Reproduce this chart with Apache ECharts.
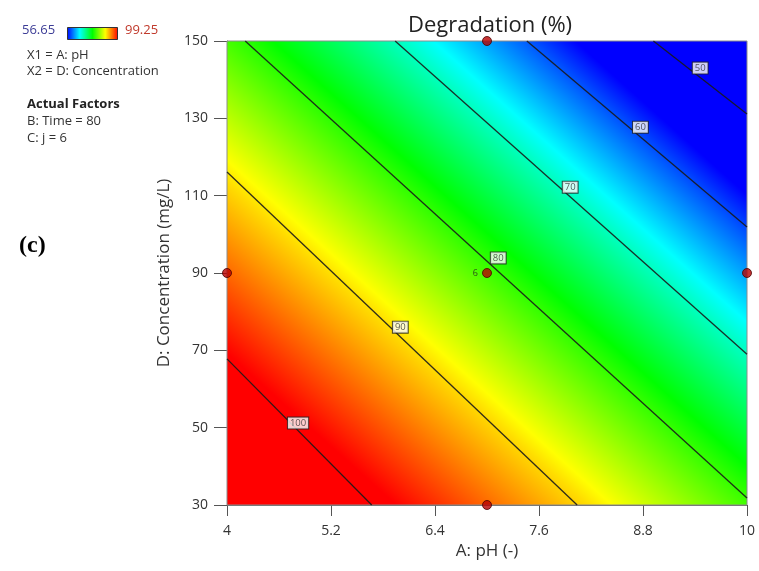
<!DOCTYPE html>
<html>
<head>
<meta charset="utf-8">
<script src="https://cdn.jsdelivr.net/npm/echarts@6/dist/echarts.min.js"></script>
<style>
  html, body { margin: 0; padding: 0; background: #fff; }
  #chart { width: 759px; height: 571px; }
</style>
</head>
<body>
<div id="chart"></div>
<script>
// ticks on both axes
const xTicks = [4, 5.2, 6.4, 7.6, 8.8, 10];
const yTicks = [30, 50, 70, 90, 110, 130, 150];
// colour scale limits (legend)
const colorRange = [56.65, 99.25];
// contour levels and their end points [pH, concentration]
const levels = [100, 90, 80, 70, 60, 50];
const contourLines = [
  [[4, 67.8], [5.67, 30]],
  [[4, 116.1], [8.04, 30]],
  [[4.21, 150], [10, 31.8]],
  [[5.94, 150], [10, 69.0]],
  [[7.46, 150], [10, 101.9]],
  [[8.92, 150], [10, 131.1]]
];
// where the level labels sit on each contour
const labelPoints = [[4.82, 51.2], [6.00, 76.0], [7.13, 93.9], [7.96, 112.2], [8.77, 127.7], [9.46, 143.0]];
// design points and how many runs each has
const designPoints = [[7, 150], [7, 90], [4, 90], [10, 90], [7, 30]];
const designRuns = [1, 6, 1, 1, 1];

// blue -> cyan -> green -> yellow -> red
const paletteColors = [[0, 0, 255], [0, 255, 255], [0, 255, 0], [255, 255, 0], [255, 0, 0]];

function colorOf(v) {
  let t = (v - colorRange[0]) / (colorRange[1] - colorRange[0]);
  t = Math.max(0, Math.min(1, t)) * (paletteColors.length - 1);
  let i = Math.min(Math.floor(t), paletteColors.length - 2);
  let f = t - i;
  let a = paletteColors[i], b = paletteColors[i + 1];
  return 'rgb(' + a.map((c, k) => Math.round(c + (b[k] - c) * f)).join(',') + ')';
}

// gradient surface under the contours, lined up with the contour lines
function renderSurface(params, api) {
  let p0 = api.coord([xTicks[0], yTicks[0]]);
  let p1 = api.coord([xTicks[xTicks.length - 1], yTicks[yTicks.length - 1]]);
  let dx = 0, dy = 0;
  contourLines.forEach(l => {
    let a = api.coord(l[0]), b = api.coord(l[1]);
    let len = Math.hypot(b[0] - a[0], b[1] - a[1]);
    dx += (b[0] - a[0]) / len;
    dy += (b[1] - a[1]) / len;
  });
  let len = Math.hypot(dx, dy);
  dx /= len; dy /= len;
  let nx = dy, ny = -dx;
  let s = contourLines.map(l => {
    let a = api.coord(l[0]), b = api.coord(l[1]);
    return (a[0] + b[0]) / 2 * nx + (a[1] + b[1]) / 2 * ny;
  });
  let sStart = s[0], sEnd = s[s.length - 1];
  function sOf(v) {
    for (let i = 0; i < levels.length - 1; i++) {
      if (v <= levels[i] && v >= levels[i + 1]) {
        return s[i] + (levels[i] - v) / (levels[i] - levels[i + 1]) * (s[i + 1] - s[i]);
      }
    }
    return v > levels[0] ? sStart : sEnd;
  }
  let vals = levels.slice();
  for (let k = 0; k < paletteColors.length; k++) {
    vals.push(colorRange[0] + (colorRange[1] - colorRange[0]) * k / (paletteColors.length - 1));
  }
  vals.sort((a, b) => b - a);
  let stops = vals.map(v => ({ offset: (sOf(v) - sStart) / (sEnd - sStart), color: colorOf(v) }));
  return {
    type: 'rect',
    shape: { x: p0[0], y: p1[1], width: p1[0] - p0[0], height: p0[1] - p1[1] },
    style: {
      fill: new echarts.graphic.LinearGradient(nx * sStart, ny * sStart, nx * sEnd, ny * sEnd, stops, true),
      stroke: '#8c8c8c',
      lineWidth: 1
    }
  };
}

const font = '"Open Sans", "Noto Sans", sans-serif';
let myChart = echarts.init(document.getElementById('chart'));

let series = [{
  type: 'custom',
  renderItem: renderSurface,
  data: [[xTicks[0], yTicks[0]]],
  silent: true,
  z: 1
}];
contourLines.forEach((l, i) => {
  series.push({
    name: 'c' + levels[i],
    type: 'line',
    data: l,
    symbol: 'none',
    silent: true,
    lineStyle: { color: '#1a1a1a', width: 1.3, opacity: 0.9 },
    z: 3
  });
});
series.push({
  type: 'scatter',
  data: labelPoints.map((p, i) => [p[0], p[1], levels[i]]),
  symbolSize: 1,
  itemStyle: { color: 'transparent' },
  silent: true,
  label: {
    show: true,
    position: 'inside',
    formatter: p => p.value[2],
    fontSize: 9.5,
    fontFamily: font,
    color: '#333',
    backgroundColor: '#fff',
    borderColor: '#222',
    borderWidth: 1,
    padding: [1, 2, 0, 2]
  },
  z: 4
});
series.push({
  type: 'scatter',
  data: designPoints.map((p, i) => ({
    value: p,
    label: {
      show: designRuns[i] > 1,
      formatter: String(designRuns[i]),
      position: 'left',
      distance: 4,
      fontSize: 9,
      color: '#222',
      fontFamily: font
    }
  })),
  symbolSize: 9,
  clip: false,
  silent: true,
  itemStyle: { color: '#b80000', borderColor: '#4a0000', borderWidth: 1 },
  z: 5
});

myChart.setOption({
  animation: false,
  title: {
    text: 'Degradation (%)',
    left: 485,
    top: 10,
    textAlign: 'center',
    textStyle: { fontFamily: font, fontSize: 22, fontWeight: 'normal', color: '#222' }
  },
  grid: { left: 227, right: 12, top: 41, bottom: 66 },
  xAxis: {
    type: 'value',
    min: xTicks[0],
    max: xTicks[xTicks.length - 1],
    name: 'A: pH (-)',
    nameLocation: 'middle',
    nameGap: 36,
    nameTextStyle: { fontFamily: font, fontSize: 17, color: '#333' },
    splitLine: { show: false },
    axisLine: { lineStyle: { color: '#666' } },
    axisTick: { show: true, customValues: xTicks, length: 11, lineStyle: { color: '#555' } },
    axisLabel: { customValues: xTicks, fontFamily: font, fontSize: 14, color: '#333', margin: 19 }
  },
  yAxis: {
    type: 'value',
    min: yTicks[0],
    max: yTicks[yTicks.length - 1],
    name: 'D: Concentration (mg/L)',
    nameLocation: 'middle',
    nameGap: 50,
    nameTextStyle: { fontFamily: font, fontSize: 17, color: '#333' },
    splitLine: { show: false },
    axisLine: { show: true, lineStyle: { color: '#666' } },
    axisTick: { show: true, customValues: yTicks, length: 13, lineStyle: { color: '#555' } },
    axisLabel: { customValues: yTicks, fontFamily: font, fontSize: 14, color: '#333', margin: 19 }
  },
  graphic: [
    { type: 'text', left: 22, top: 24, style: { text: colorRange[0].toFixed(2), fill: '#3c3c96', font: '13px ' + font } },
    {
      type: 'rect', left: 67, top: 27,
      shape: { width: 50, height: 12 },
      style: {
        fill: new echarts.graphic.LinearGradient(0, 0, 1, 0,
          paletteColors.map((c, k) => ({ offset: k / (paletteColors.length - 1), color: 'rgb(' + c.join(',') + ')' }))),
        stroke: '#333', lineWidth: 1
      }
    },
    { type: 'text', left: 125, top: 24, style: { text: colorRange[1].toFixed(2), fill: '#c0392b', font: '13px ' + font } },
    { type: 'text', left: 27, top: 49, style: { text: 'X1 = A: pH', fill: '#333', font: '13px ' + font } },
    { type: 'text', left: 27, top: 65, style: { text: 'X2 = D: Concentration', fill: '#333', font: '13px ' + font } },
    { type: 'text', left: 27, top: 98, style: { text: 'Actual Factors', fill: '#222', font: 'bold 13px ' + font } },
    { type: 'text', left: 27, top: 115, style: { text: 'B: Time = 80', fill: '#333', font: '13px ' + font } },
    { type: 'text', left: 27, top: 132, style: { text: 'C: j = 6', fill: '#333', font: '13px ' + font } },
    { type: 'text', left: 19, top: 234, style: { text: '(c)', fill: '#000', font: 'bold 24px "Liberation Serif", serif' } }
  ],
  series: series
});

window.onresize = function () {
  myChart.resize();
};
</script>
</body>
</html>
